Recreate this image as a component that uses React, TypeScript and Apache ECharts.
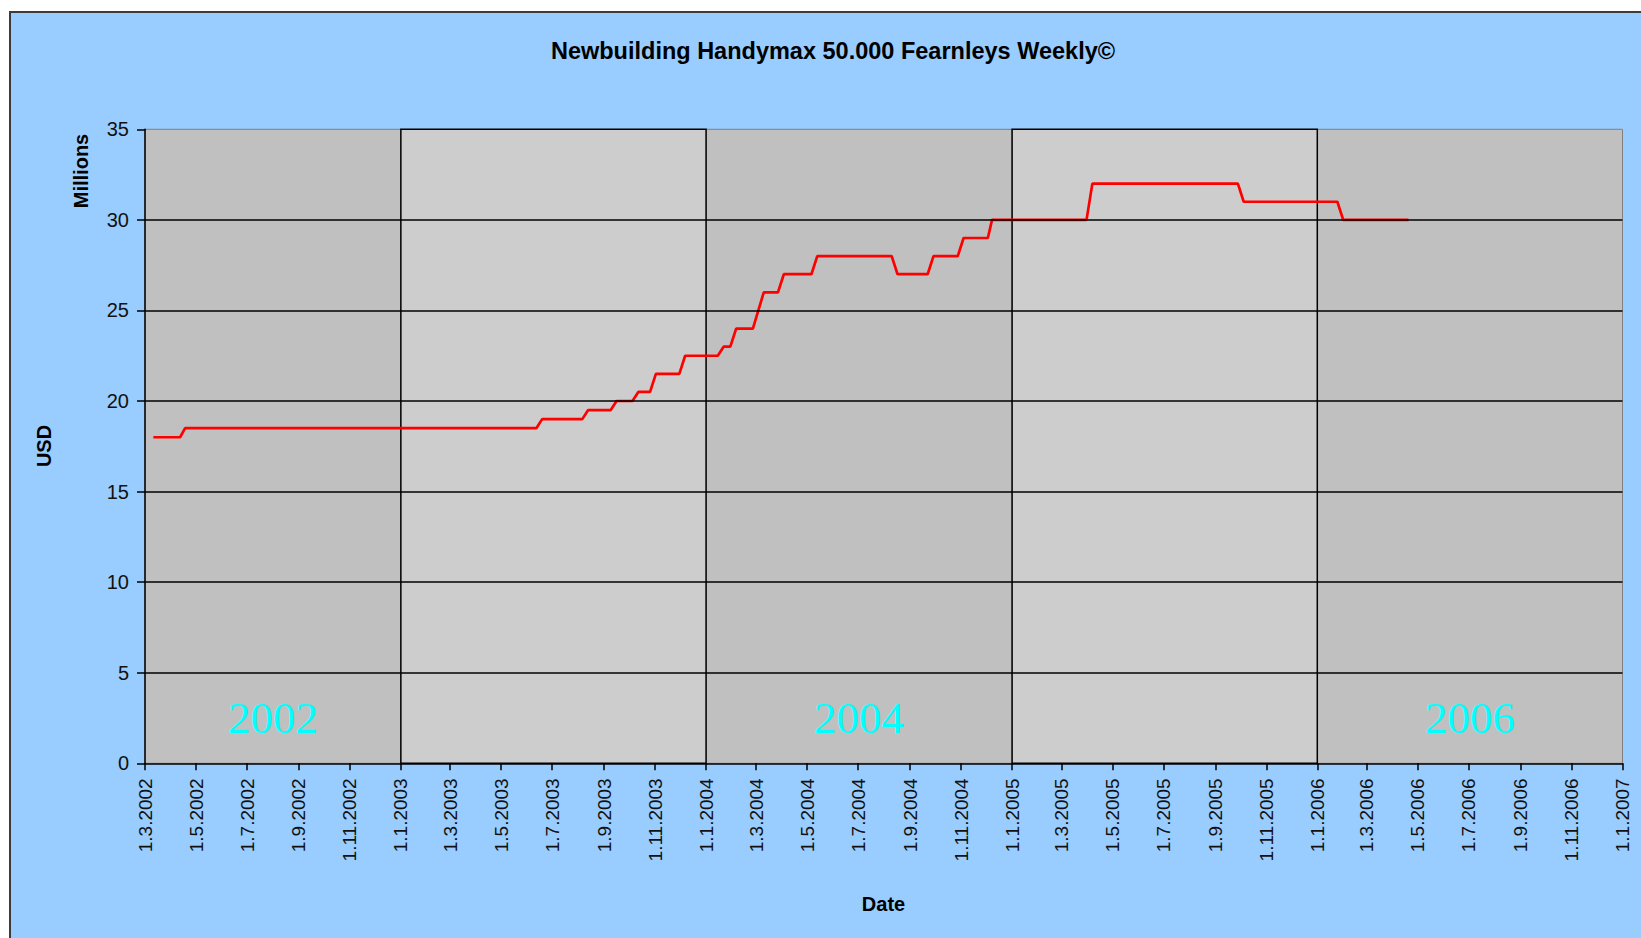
import React, { useEffect, useRef } from "react";
import * as echarts from "echarts";

// ---- data ----
const priceDates: string[] = [
  "2002-03-11", "2002-04-12", "2002-04-18",
  "2003-06-12", "2003-06-19",
  "2003-08-06", "2003-08-13",
  "2003-09-09", "2003-09-16",
  "2003-10-05", "2003-10-12",
  "2003-10-26", "2003-11-02",
  "2003-11-30", "2003-12-07",
  "2004-01-15", "2004-01-22",
  "2004-01-30", "2004-02-06",
  "2004-02-26", "2004-03-10",
  "2004-03-27", "2004-04-03",
  "2004-05-06", "2004-05-13",
  "2004-08-10", "2004-08-17",
  "2004-09-22", "2004-09-29",
  "2004-10-28", "2004-11-04",
  "2004-12-03", "2004-12-08",
  "2005-03-31", "2005-04-07",
  "2005-09-28", "2005-10-05",
  "2006-01-25", "2006-02-01",
  "2006-04-20",
];
const priceValues: number[] = [
  18, 18, 18.5,
  18.5, 19,
  19, 19.5,
  19.5, 20,
  20, 20.5,
  20.5, 21.5,
  21.5, 22.5,
  22.5, 23,
  23, 24,
  24, 26,
  26, 27,
  27, 28,
  28, 27,
  27, 28,
  28, 29,
  29, 30,
  30, 32,
  32, 31,
  31, 30,
  30,
];
const xTickLabels: string[] = [
  "1.3.2002", "1.5.2002", "1.7.2002", "1.9.2002", "1.11.2002",
  "1.1.2003", "1.3.2003", "1.5.2003", "1.7.2003", "1.9.2003", "1.11.2003",
  "1.1.2004", "1.3.2004", "1.5.2004", "1.7.2004", "1.9.2004", "1.11.2004",
  "1.1.2005", "1.3.2005", "1.5.2005", "1.7.2005", "1.9.2005", "1.11.2005",
  "1.1.2006", "1.3.2006", "1.5.2006", "1.7.2006", "1.9.2006", "1.11.2006",
  "1.1.2007",
];
const bandStarts: string[] = ["2002-03-01", "2003-01-01", "2004-01-01", "2005-01-01", "2006-01-01"];
const bandEnds: string[] = ["2003-01-01", "2004-01-01", "2005-01-01", "2006-01-01", "2007-01-01"];
const bandLabels: string[] = ["2002", "", "2004", "", "2006"];
const gridValues: number[] = [5, 10, 15, 20, 25, 30];

const TITLE = "Newbuilding Handymax 50.000 Fearnleys Weekly©";

const isoTs = (s: string) => {
  const [y, m, d] = s.split("-").map(Number);
  return new Date(y, m - 1, d).getTime();
};
const dmyTs = (s: string) => {
  const [d, m, y] = s.split(".").map(Number);
  return new Date(y, m - 1, d).getTime();
};
const fmt = (v: number) => {
  const d = new Date(v);
  return `${d.getDate()}.${d.getMonth() + 1}.${d.getFullYear()}`;
};

export default function App() {
  const ref = useRef<HTMLDivElement>(null);

  useEffect(() => {
    if (!ref.current) return;
    const chart = echarts.init(ref.current, undefined, { renderer: "svg" });
    const tickTs = xTickLabels.map(dmyTs);
    const sans = "Liberation Sans, Arial, sans-serif";

    const bands = bandStarts.map((s, i) => ({
      start: isoTs(s),
      end: isoTs(bandEnds[i]),
      label: bandLabels[i],
      light: i % 2 === 1,
    }));
    // draw dark bands first so the black borders of light bands stay on top
    const ordered = [...bands.filter((b) => !b.light), ...bands.filter((b) => b.light)];

    const option: any = {
      animation: false,
      backgroundColor: "transparent",
      grid: {
        left: 145,
        top: 129.3,
        width: 1477.5,
        height: 634,
        show: false,
        containLabel: false,
        outerBoundsMode: "none",
      },
      xAxis: {
        type: "value",
        min: tickTs[0],
        max: tickTs[tickTs.length - 1],
        scale: true,
        z: 5,
        axisLine: { show: true, onZero: false, lineStyle: { color: "#000", width: 1.5 } },
        axisTick: {
          show: true,
          length: 7,
          inside: false,
          customValues: tickTs,
          lineStyle: { color: "#000", width: 1.5 },
        },
        axisLabel: {
          show: true,
          customValues: tickTs,
          rotate: 90,
          margin: 15,
          fontSize: 19,
          fontFamily: sans,
          color: "#111",
          hideOverlap: false,
          formatter: (v: number) => fmt(v),
        },
        splitLine: { show: false },
        splitArea: { show: false },
      },
      yAxis: {
        type: "value",
        min: 0,
        max: 35,
        interval: 5,
        z: 5,
        axisLine: { show: true, lineStyle: { color: "#000", width: 1.5 } },
        axisTick: { show: true, length: 8, lineStyle: { color: "#000", width: 1.5 } },
        axisLabel: { margin: 16, fontSize: 20, fontFamily: sans, color: "#111" },
        splitLine: { show: false },
      },
      series: [
        {
          type: "line",
          data: [],
          z: 1,
          silent: true,
          markArea: {
            silent: true,
            data: ordered.map((b) => [
              {
                xAxis: b.start,
                itemStyle: b.light
                  ? { color: "#cdcdcd", borderColor: "#000", borderWidth: 1.5 }
                  : { color: "#c0c0c0", borderColor: "#808080", borderWidth: 1 },
                label: {
                  show: b.label !== "",
                  formatter: b.label,
                  position: "insideBottom",
                  distance: 23,
                  color: "#00ffff",
                  fontSize: 45,
                  fontFamily: "Liberation Serif, Times New Roman, serif",
                },
              },
              { xAxis: b.end },
            ]),
          },
        },
        {
          type: "line",
          data: [],
          z: 2,
          silent: true,
          markLine: {
            silent: true,
            symbol: ["none", "none"],
            label: { show: false },
            lineStyle: { color: "#000", width: 1.5, type: "solid" },
            data: gridValues.map((v) => ({ yAxis: v })),
          },
        },
        {
          type: "line",
          z: 4,
          silent: true,
          showSymbol: false,
          symbol: "none",
          lineStyle: { color: "#ff0000", width: 2.7 },
          data: priceDates.map((d, i) => [isoTs(d), priceValues[i]]),
        },
      ],
      graphic: [
        {
          type: "text",
          x: 833,
          y: 51,
          style: {
            text: TITLE,
            fontSize: 23.5,
            fontWeight: "bold",
            fontFamily: sans,
            fill: "#000",
            align: "center",
            verticalAlign: "middle",
          },
        },
        {
          type: "text",
          x: 81,
          y: 171,
          rotation: Math.PI / 2,
          style: {
            text: "Millions",
            fontSize: 20,
            fontWeight: "bold",
            fontFamily: sans,
            fill: "#000",
            align: "center",
            verticalAlign: "middle",
          },
        },
        {
          type: "text",
          x: 44,
          y: 446,
          rotation: Math.PI / 2,
          style: {
            text: "USD",
            fontSize: 20,
            fontWeight: "bold",
            fontFamily: sans,
            fill: "#000",
            align: "center",
            verticalAlign: "middle",
          },
        },
        {
          type: "text",
          x: 883.5,
          y: 904,
          style: {
            text: "Date",
            fontSize: 20,
            fontWeight: "bold",
            fontFamily: sans,
            fill: "#000",
            align: "center",
            verticalAlign: "middle",
          },
        },
      ],
    };

    chart.setOption(option);
    return () => chart.dispose();
  }, []);

  return (
    <div
      style={{
        position: "fixed",
        left: 0,
        top: 0,
        width: 1641,
        height: 938,
        background: "#ffffff",
        overflow: "hidden",
      }}
    >
      <div
        style={{
          position: "absolute",
          left: 9,
          top: 11,
          width: 1660,
          height: 960,
          background: "#99ccff",
          borderLeft: "2px solid #3c3c3c",
          borderTop: "2px solid #3c3c3c",
        }}
      />
      <div
        ref={ref}
        style={{ position: "absolute", left: 0, top: 0, width: 1641, height: 938 }}
      />
    </div>
  );
}
